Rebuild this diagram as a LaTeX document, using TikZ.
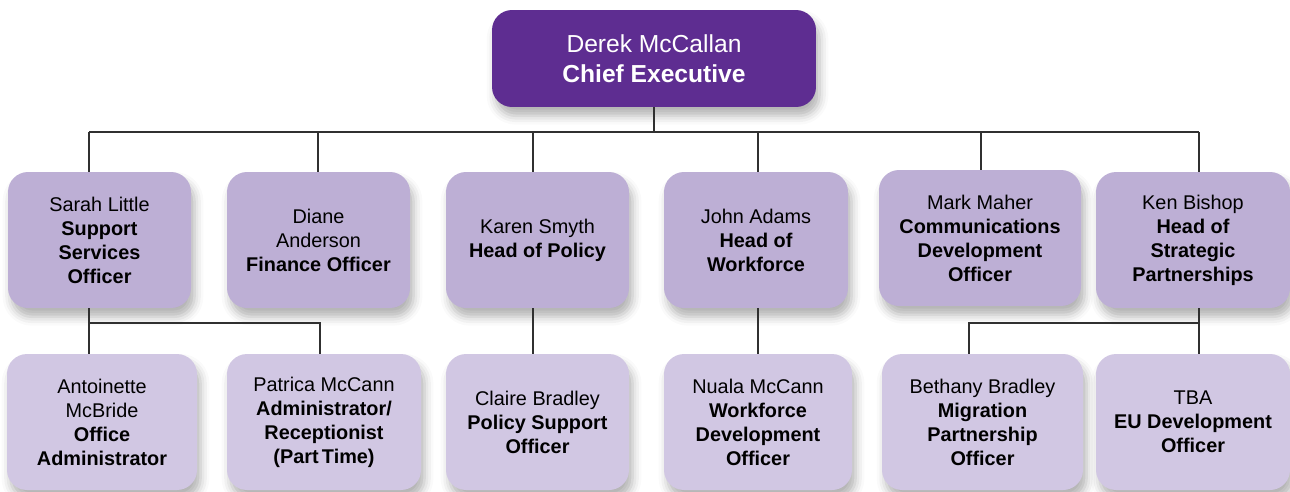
\documentclass[tikz,border=0pt]{standalone}
\usepackage{fontspec}
\setmainfont{Liberation Sans}
\usetikzlibrary{positioning,shadows.blur}
\definecolor{ceopurple}{HTML}{5E2D91}
\definecolor{headlilac}{HTML}{BDAFD5}
\definecolor{stafflilac}{HTML}{D1C7E3}
\definecolor{linegrey}{HTML}{303030}
\tikzset{
    orgbox/.style={rounded corners=0.4cm, align=center, inner sep=0pt,
        blur shadow={shadow xshift=2pt, shadow yshift=-5pt, shadow blur radius=5pt, shadow opacity=30}},
    chief/.style={orgbox, fill=ceopurple, text=white, font=\fontsize{14}{17}\selectfont,
        minimum width=6.48cm, minimum height=1.94cm},
    headbox/.style={orgbox, fill=headlilac, font=\fontsize{11.3}{13.7}\selectfont, minimum height=2.72cm},
    staffbox/.style={orgbox, fill=stafflilac, font=\fontsize{11.3}{13.7}\selectfont, minimum height=2.72cm},
    boxw/.style={minimum width=#1*0.02cm},
    link/.style={draw=linegrey, line width=0.7pt}
}

\begin{document}
\begin{tikzpicture}[x=0.02cm, y=-0.02cm]
    \useasboundingbox (0, 0) rectangle (1290, 491);

    \node[chief] (ceo) at (654, 58.5) {Derek McCallan\\\textbf{Chief Executive}};

    \node[headbox, boxw=183] (sarah) at (99.5, 240) {Sarah Little\\\textbf{Support}\\\textbf{Services}\\\textbf{Officer}};
    \node[headbox, boxw=183] (diane) at (318.5, 240) {Diane\\Anderson\\\textbf{Finance Officer}};
    \node[headbox, boxw=183] (karen) at (537.5, 240) {Karen Smyth\\\textbf{Head of Policy}};
    \node[headbox, boxw=184] (john) at (756, 240) {John Adams\\\textbf{Head of}\\\textbf{Workforce}};
    \node[headbox, boxw=202] (mark) at (980, 238) {Mark Maher\\\textbf{Communications}\\\textbf{Development}\\\textbf{Officer}};
    \node[headbox, boxw=194] (ken) at (1193, 240) {Ken Bishop\\\textbf{Head of}\\\textbf{Strategic}\\\textbf{Partnerships}};

    \node[staffbox, boxw=190] (antoinette) at (102, 422) {Antoinette\\McBride\\\textbf{Office}\\\textbf{Administrator}};
    \node[staffbox, boxw=194] (patrica) at (324, 422) {Patrica McCann\\\textbf{Administrator/}\\\textbf{Receptionist}\\\textbf{(Part\,Time)}};
    \node[staffbox, boxw=183] (claire) at (537.5, 422) {Claire Bradley\\\textbf{Policy Support}\\\textbf{Officer}};
    \node[staffbox, boxw=188] (nuala) at (758, 422) {Nuala McCann\\\textbf{Workforce}\\\textbf{Development}\\\textbf{Officer}};
    \node[staffbox, boxw=201] (bethany) at (982.5, 422) {Bethany Bradley\\\textbf{Migration}\\\textbf{Partnership}\\\textbf{Officer}};
    \node[staffbox, boxw=194] (tba) at (1193, 422) {TBA\\\textbf{EU Development}\\\textbf{Officer}};

    \coordinate (t1) at (89, 132);
    \coordinate (t2) at (318, 132);
    \coordinate (t3) at (533, 132);
    \coordinate (t4) at (758, 132);
    \coordinate (t5) at (981, 132);
    \coordinate (t6) at (1199, 132);
    \coordinate (u1) at (89, 323);
    \coordinate (u2) at (320, 323);
    \coordinate (u3) at (969, 323);
    \coordinate (u4) at (1199, 323);

    \draw[link] (ceo.south) -- (ceo.south |- t1);
    \draw[link] (t1) -- (t6);
    \foreach \t/\n in {t1/sarah, t2/diane, t3/karen, t4/john, t5/mark, t6/ken}
        \draw[link] (\t) -- (\t |- \n.north);

    \draw[link] (u1 |- sarah.south) -- (u1 |- antoinette.north);
    \draw[link] (u1) -- (u2) -- (u2 |- patrica.north);
    \draw[link] (t3 |- karen.south) -- (t3 |- claire.north);
    \draw[link] (t4 |- john.south) -- (t4 |- nuala.north);
    \draw[link] (u4 |- ken.south) -- (u4 |- tba.north);
    \draw[link] (u4) -- (u3) -- (u3 |- bethany.north);
\end{tikzpicture}
\end{document}
